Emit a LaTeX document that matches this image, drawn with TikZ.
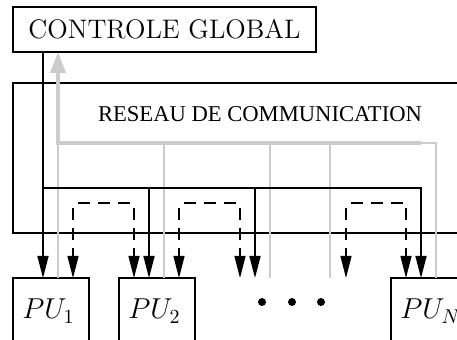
\documentclass[tikz,border=0pt]{standalone}
\usepackage{fontspec}
\newfontfamily\timesfont{Liberation Serif}
\usetikzlibrary{arrows.meta}
\begin{document}
\begin{tikzpicture}[x=0.5pt,y=-0.5pt,
  box/.style={draw,line width=0.8pt,inner sep=0pt,outer sep=0pt},
  wire/.style={line width=0.8pt},
  arr/.style={wire,-{Triangle[length=11pt,width=5.5pt]}},
  dsh/.style={line width=0.65pt,dash pattern=on 6pt off 4pt,dash phase=7.5pt},
  darr/.style={dsh,-{Triangle[length=11pt,width=5.5pt]}},
  gthin/.style={line width=0.8pt,gray!40},
  gthick/.style={line width=2pt,gray!40,-{Triangle[length=10.5pt,width=7.5pt]}},
  putext/.style={anchor=base west,inner sep=0pt,font=\fontsize{14.4}{17}\selectfont},
  dot/.style={circle,fill,inner sep=0pt,minimum size=4pt}
]
\clip (0,0) rectangle (457,340);
% boxes
\node[box,minimum width=228.5pt,minimum height=75pt] (net) at (241.5,158) {};
\node[inner sep=0pt,font=\timesfont\fontsize{11.3}{13}\selectfont] (lbl) at (260,114.5) {RESEAU DE COMMUNICATION};
\node[box,minimum width=151.5pt,minimum height=22.5pt,font=\fontsize{13.4}{15}\selectfont] (cg) at (164.5,29.5) {CONTROLE GLOBAL};
\node[box,minimum width=38pt,minimum height=41pt] (pu1) at (51,319) {};
\node[box,minimum width=38pt,minimum height=41pt] (pu2) at (157,319) {};
\node[box,minimum width=38pt,minimum height=41pt] (puN) at (429,319) {};
\node[putext] (t1) at (22,319) {$PU_1$};
\node[putext] (t2) at (128,319) {$PU_2$};
\node[putext] (tN) at (400,319) {$PU_N$};
\node[dot] (d1) at (262,302) {};
\node[dot] (d2) at (292,302) {};
\node[dot] (d3) at (321,302) {};
% coordinates
\coordinate (gA) at (58,143);
\coordinate (gB) at (164,143);
\coordinate (gC) at (270,143);
\coordinate (gD) at (330,143);
\coordinate (gEnd) at (421,143);
\coordinate (gE) at (436,143);
\coordinate (j0) at (43,188);
\coordinate (j1) at (149,188);
\coordinate (j2) at (255,188);
\coordinate (j3) at (421,188);
\coordinate (k1) at (73,203);
\coordinate (k2) at (134,203);
\coordinate (k3) at (179,203);
\coordinate (k4) at (240,203);
\coordinate (k5) at (346,203);
\coordinate (k6) at (406,203);
% gray thin lines
\draw[gthin] (gA) -- (gA |- pu1.north);
\draw[gthin] (gB) -- (gB |- pu2.north);
\draw[gthin] (gC) -- (gC |- pu1.north);
\draw[gthin] (gD) -- (gD |- pu1.north);
\draw[gthin] (gEnd) -- (gE) -- (gE |- puN.north);
% black bus
\draw[arr] (cg.south -| j0) -- (j0 |- pu1.north);
\draw[arr] (j0) -- (j3) -- (j3 |- puN.north);
\draw[arr] (j1) -- (j1 |- pu2.north);
\draw[arr] (j2) -- (j2 |- pu1.north);
% dashed
\draw[dsh] (k1) -- (k2);
\draw[darr] (k1) -- (k1 |- pu1.north);
\draw[darr] (k2) -- (k2 |- pu2.north);
\draw[dsh] (k3) -- (k4);
\draw[darr] (k3) -- (k3 |- pu2.north);
\draw[darr] (k4) -- (k4 |- pu1.north);
\draw[dsh] (k5) -- (k6);
\draw[darr] (k5) -- (k5 |- puN.north);
\draw[darr] (k6) -- (k6 |- puN.north);
% gray thick arrow
\draw[gthick] (gEnd) -- (gA) -- (gA |- cg.south);
\end{tikzpicture}
\end{document}
